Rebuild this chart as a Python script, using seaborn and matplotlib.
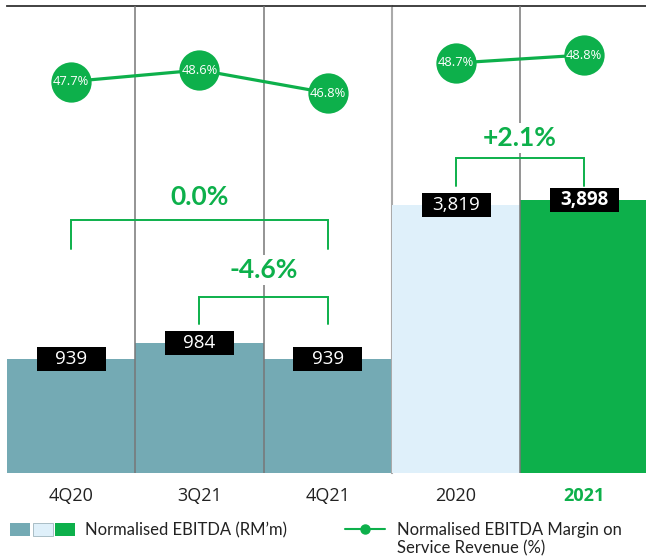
import numpy as np
import pandas as pd
import matplotlib
matplotlib.use("Agg")
import matplotlib.pyplot as plt
import matplotlib.transforms as mtransforms
from matplotlib.patches import Rectangle, Patch
from matplotlib.lines import Line2D
from matplotlib.legend_handler import HandlerTuple
import seaborn as sns

# ---------------- data ----------------
quarters = ["4Q20", "3Q21", "4Q21"]
quarter_ebitda = [939, 984, 939]
quarter_margin = [47.7, 48.6, 46.8]
quarter_labels = ["939", "984", "939"]

years = ["2020", "2021"]
year_ebitda = [3819, 3898]
year_margin = [48.7, 48.8]
year_labels = ["3,819", "3,898"]

margin_labels_q = ["47.7%", "48.6%", "46.8%"]
margin_labels_y = ["48.7%", "48.8%"]

change_qoq = "-4.6%"   # 3Q21 -> 4Q21
change_yoy_q = "0.0%"  # 4Q20 -> 4Q21
change_year = "+2.1%"  # 2020 -> 2021

legend_bar = "Normalised EBITDA (RM\u2019m)"
legend_line = ["Normalised EBITDA Margin on", "Service Revenue (%)"]

# ---------------- style ----------------
TEAL = "#74AAB4"
LIGHT = "#DFF0FA"
GREEN = "#0DB04B"
SEP = "#777777"

sns.set_theme(style="white")
plt.rcParams["font.family"] = ["Open Sans", "DejaVu Sans"]

W, H = 646, 558
fig = plt.figure(figsize=(W / 100, H / 100), dpi=100)
fig.patch.set_facecolor("white")

axL = fig.add_axes([7 / W, 1 - 473 / H, 385 / W, 467 / H])
axR = fig.add_axes([392 / W, 1 - 473 / H, 256 / W, 467 / H])

sns.barplot(x=quarters, y=quarter_ebitda, hue=quarters, palette=[TEAL] * 3,
            width=1.0, saturation=1, legend=False, ax=axL, zorder=1,
            edgecolor="none", linewidth=0)
sns.barplot(x=years, y=year_ebitda, hue=years, palette=[LIGHT, GREEN],
            width=1.0, saturation=1, legend=False, ax=axR, zorder=1,
            edgecolor="none", linewidth=0)

axL.set_ylim(618, 1933)
axR.set_ylim(0, 6660)
axL.set_xlim(-0.5, 2.5)
axR.set_xlim(-0.5, 1.5)

for ax in (axL, axR):
    ax.set_xlabel("")
    ax.set_ylabel("")
    ax.set_yticks([])
    for s in ("left", "right", "bottom"):
        ax.spines[s].set_visible(False)
    ax.spines["top"].set_color("#333333")
    ax.spines["top"].set_linewidth(1.3)
    ax.tick_params(axis="x", length=0, pad=10, labelsize=13, labelcolor="#222222")
    ax.set_facecolor("none")

axR.spines["left"].set_visible(True)
axR.spines["left"].set_color("#aaaaaa")
axR.spines["left"].set_linewidth(1.5)
axR.spines["left"].set_zorder(0.5)

lab = axR.get_xticklabels()
lab[1].set_color(GREEN)
lab[1].set_fontweight("bold")

# separators between columns
for x in (0.5, 1.5):
    axL.axvline(x, color=SEP, lw=1.1, zorder=3)
axR.axvline(0.5, color=SEP, lw=1.1, zorder=3)

# value boxes
fig.canvas.draw()
def value_box(ax, xs, vals, labels, bold_idx=()):
    for i, (x, v, t) in enumerate(zip(xs, vals, labels)):
        px, py = ax.transData.transform((x, v))
        r = Rectangle((px - 34.5, py - 12), 69, 24, facecolor="black",
                      edgecolor="none", transform=mtransforms.IdentityTransform(),
                      zorder=4)
        ax.add_artist(r)
        ax.text(x, v, t, color="white", ha="center", va="center",
                fontsize=13.5, fontweight="bold" if i in bold_idx else "normal",
                zorder=5)

value_box(axL, range(3), quarter_ebitda, quarter_labels)
value_box(axR, range(2), year_ebitda, year_labels, bold_idx=(1,))

# change brackets
def bracket(ax, x0, x1, ybar, yleg, ytext, label):
    tr = mtransforms.blended_transform_factory(ax.transData, ax.transAxes)
    ax.plot([x0, x0, x1, x1], [yleg, ybar, ybar, yleg], color=GREEN, lw=1.4,
            transform=tr, zorder=4, solid_joinstyle="miter")
    ax.text((x0 + x1) / 2, ytext, label, transform=tr, ha="center", va="center",
            color=GREEN, fontsize=19, fontweight="bold", family=["Lato", "DejaVu Sans"],
            zorder=6, bbox=dict(boxstyle="square,pad=0.12", fc="white", ec="none"))

bracket(axL, 0, 2, 0.5418, 0.4797, 0.591, change_yoy_q)
bracket(axL, 1, 2, 0.3769, 0.319, 0.4347, change_qoq)
bracket(axR, 0, 1, 0.6745, 0.6146, 0.7173, change_year)

# margin lines
def margin_line(ax, xs, vals, labels, ylim, xlim):
    tw = ax.twinx()
    sns.lineplot(x=list(xs), y=vals, color=GREEN, lw=2.3, marker="o",
                 markersize=29, markeredgewidth=0, ax=tw, zorder=6)
    tw.set_ylim(*ylim)
    ax.set_xlim(*xlim)
    tw.set_yticks([])
    tw.set_ylabel("")
    tw.set_xlabel("")
    for s in tw.spines.values():
        s.set_visible(False)
    for x, v, t in zip(xs, vals, labels):
        tw.text(x, v, t, color="white", ha="center", va="center", fontsize=9.3, zorder=7)
    return tw

margin_line(axL, range(3), quarter_margin, margin_labels_q, (17.07, 53.61), (-0.5, 2.5))
margin_line(axR, range(2), year_margin, margin_labels_y, (43.575, 49.4125), (-0.5, 1.5))

# legends
lfont = {"family": ["Lato", "DejaVu Sans"], "size": 12}
h1 = (Patch(facecolor=TEAL, edgecolor="none"),
      Patch(facecolor=LIGHT, edgecolor="#9fb5bd", linewidth=0.6),
      Patch(facecolor=GREEN, edgecolor="none"))
leg1 = fig.legend([h1], [legend_bar], handler_map={tuple: HandlerTuple(ndivide=None, pad=0.15)},
                  loc="center left", bbox_to_anchor=(10 / W, 1 - 530 / H),
                  frameon=False, prop=lfont, handlelength=3.9, handleheight=0.85,
                  handletextpad=0.6, borderpad=0, borderaxespad=0)
for t in leg1.get_texts():
    t.set_color("#222222")

h2 = Line2D([], [], color=GREEN, lw=1.5, marker="o", markersize=6.5)
h3 = Line2D([], [], color="none")
leg2 = fig.legend([h2, h3], legend_line, loc="upper left",
                  bbox_to_anchor=(345 / W, 1 - 522 / H), frameon=False, prop=lfont,
                  handlelength=2.4, handletextpad=0.7, borderpad=0, borderaxespad=0,
                  labelspacing=0.12)
for t in leg2.get_texts():
    t.set_color("#222222")

fig.savefig("out.png", dpi=100, facecolor="white")
